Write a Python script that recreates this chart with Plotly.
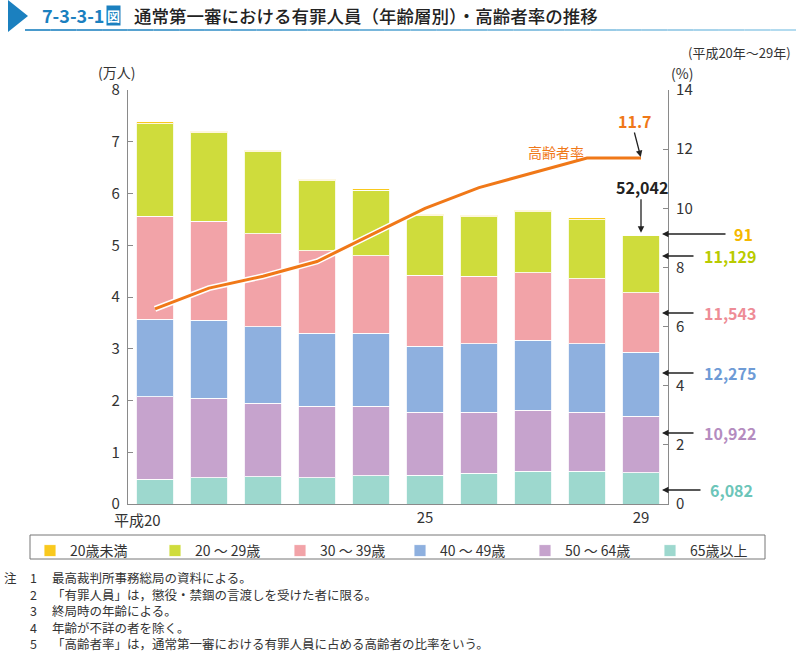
import plotly.graph_objects as go

# ---------------- data ----------------
years = ["平成20", "21", "22", "23", "24", "25", "26", "27", "28", "29"]
tick_labels = ["", "", "", "", "", "25", "", "", "", "29"]

# 有罪人員（人）
under20 = [400, 300, 300, 300, 300, 300, 300, 300, 400, 91]
age20_29 = [17900, 17100, 15900, 13600, 12600, 11500, 11500, 11800, 11400, 11129]
age30_39 = [19900, 19100, 17900, 15900, 15000, 13700, 13000, 13100, 12500, 11543]
age40_49 = [15000, 15100, 14800, 14100, 14100, 12800, 13300, 13500, 13300, 12275]
age50_64 = [15900, 15300, 14200, 13800, 13400, 12100, 11800, 11800, 11400, 10922]
age65 = [4800, 5100, 5300, 5100, 5500, 5600, 5900, 6300, 6300, 6082]

# 高齢者率（%）
elderly_rate = [6.6, 7.3, 7.7, 8.2, 9.1, 10.0, 10.7, 11.2, 11.7, 11.7]

series_names = ["65歳以上", "50 ～ 64歳", "40 ～ 49歳", "30 ～ 39歳", "20 ～ 29歳", "20歳未満"]
series_values = [age65, age50_64, age40_49, age30_39, age20_29, under20]
series_colors = ["#9dd8ce", "#c6a3cd", "#8eb0df", "#f2a3a8", "#cfdc3c", "#f9c91e"]
series_legend = ["legend2", "legend2", "legend2", "legend", "legend", "legend"]
label_colors = ["#6cc5b9", "#b48cc0", "#6e9bd6", "#ee8c96", "#b9cb00", "#f5b800"]

# ---------------- layout helpers ----------------
L, T, W, H = 128, 90, 540, 414
FW, FH = 796, 653


def px(x):
    return (x - L) / W


def py(y):
    return (T + H - y) / H


FONT = "Noto Sans CJK JP"
LAST = len(years) - 1

fig = go.Figure()

for name, vals, col, lg in zip(series_names, series_values, series_colors, series_legend):
    fig.add_trace(go.Bar(
        x=years, y=[v / 10000 for v in vals], name=name, legend=lg,
        marker=dict(color=col, line=dict(color="rgba(255,255,255,0.85)", width=1)),
        hoverinfo="skip",
    ))

# elderly rate line with white halo
fig.add_trace(go.Scatter(x=years, y=elderly_rate, yaxis="y2", mode="lines",
                         line=dict(color="white", width=6), showlegend=False, hoverinfo="skip"))
fig.add_trace(go.Scatter(x=years, y=elderly_rate, yaxis="y2", mode="lines",
                         line=dict(color="#f07818", width=3), showlegend=False, hoverinfo="skip"))

ann = []
# title
ann.append(dict(text="<b>7-3-3-1</b>", x=40, y=15, xanchor="left",
                font=dict(size=18, color="#1b80bf")))
ann.append(dict(text="<b>図</b>", x=113, y=15, xanchor="center",
                font=dict(size=13, color="white"), bgcolor="#1b80bf", borderpad=0))
ann.append(dict(text="通常第一審における有罪人員（年齢層別）・高齢者率の推移", x=132, y=15,
                xanchor="left", font=dict(size=17.5, color="#222222", weight=500)))
ann.append(dict(text="(平成20年～29年)", x=793, y=52, xanchor="right",
                font=dict(size=13, color="#333333")))
ann.append(dict(text="(万人)", x=116, y=72, xanchor="center",
                font=dict(size=14, color="#333333")))
ann.append(dict(text="(%)", x=682, y=73, xanchor="center",
                font=dict(size=14, color="#333333")))
# x label 平成20 (first)
ann.append(dict(text="平成20", x=163, y=519, xanchor="right",
                font=dict(size=15, color="#333333")))
# 高齢者率 label
ann.append(dict(text="高齢者率", x=556, y=152, xanchor="center",
                font=dict(size=14, color="#f07818")))
# 11.7 label
ann.append(dict(text="<b>%.1f</b>" % elderly_rate[-1], x=635, y=121, xanchor="center",
                font=dict(size=16, color="#f07818")))

# notes
notes = [
    ("注", "1", "最高裁判所事務総局の資料による。"),
    ("", "2", "「有罪人員」は，懲役・禁錮の言渡しを受けた者に限る。"),
    ("", "3", "終局時の年齢による。"),
    ("", "4", "年齢が不詳の者を除く。"),
    ("", "5", "「高齢者率」は，通常第一審における有罪人員に占める高齢者の比率をいう。"),
]
for i, (a, b, c) in enumerate(notes):
    yy = 577.5 + i * 16.6
    if a:
        ann.append(dict(text=a, x=2, y=yy, xanchor="left",
                        font=dict(size=12.5, color="#333333")))
    ann.append(dict(text=b, x=28, y=yy, xanchor="left",
                    font=dict(size=12.5, color="#333333")))
    ann.append(dict(text=c, x=50, y=yy, xanchor="left",
                    font=dict(size=12.5, color="#333333")))

# total label
total_last = sum(v[-1] for v in series_values)
ann.append(dict(text="<b>{:,}</b>".format(total_last), x=642, y=187, xanchor="center",
                font=dict(size=16, color="#222222")))

# right-side value labels (top to bottom)
right_labels = [
    (under20[-1], label_colors[5], 234, 732),
    (age20_29[-1], label_colors[4], 256, 702),
    (age30_39[-1], label_colors[3], 313, 702),
    (age40_49[-1], label_colors[2], 373, 702),
    (age50_64[-1], label_colors[1], 433, 702),
    (age65[-1], label_colors[0], 490, 708),
]
for val, col, yy, tx in right_labels:
    ann.append(dict(text="<b>{:,}</b>".format(val), x=tx, y=yy, xanchor="left",
                    font=dict(size=16, color=col)))

# convert pixel-placed annotations to paper coords
for a in ann:
    a["x"] = px(a["x"])
    a["y"] = py(a["y"])
    a["xref"] = "paper"
    a["yref"] = "paper"
    a["yanchor"] = "middle"
    a["showarrow"] = False

# arrows
ARROW = dict(text="", showarrow=True, arrowhead=2, arrowsize=1, arrowwidth=1.3, arrowcolor="#222222")
ann.append(dict(ARROW, x=LAST, y=elderly_rate[-1], xref="x", yref="y2", ax=-7, ay=-27, standoff=1))
ann.append(dict(ARROW, x=LAST, y=total_last / 10000, xref="x", yref="y", ax=0, ay=-37, standoff=2))
arrow_tails = [727, 695, 695, 695, 695, 702]
for (val, col, yy, tx), tail in zip(right_labels, arrow_tails):
    ann.append(dict(ARROW, xref="paper", yref="paper", x=px(662), y=py(yy),
                    ax=tail - 662, ay=0, standoff=0))

shapes = []
# title triangle
shapes.append(dict(type="path", xref="paper", yref="paper",
                   path="M {} {} L {} {} L {} {} Z".format(px(8), py(0), px(8), py(32), px(28), py(16)),
                   fillcolor="#1b80bf", line=dict(width=0)))
# title underline with fading gradient
n = 30
x0, x1 = 25, 796
c0 = (27, 128, 191)
c1 = (160, 210, 235)
for i in range(n):
    t = i / (n - 1)
    col = "rgb({},{},{})".format(*[int(c0[k] + (c1[k] - c0[k]) * t) for k in range(3)])
    xa = x0 + (x1 - x0) * i / n
    xb = x0 + (x1 - x0) * (i + 1) / n
    shapes.append(dict(type="line", xref="paper", yref="paper", x0=px(xa), x1=px(xb),
                       y0=py(30), y1=py(30), line=dict(color=col, width=1.6)))
# legend frame
shapes.append(dict(type="rect", xref="paper", yref="paper", x0=px(30), x1=px(765),
                   y0=py(535), y1=py(559), line=dict(color="#777777", width=1),
                   fillcolor="rgba(0,0,0,0)"))

LEG = dict(orientation="h", traceorder="reversed", yanchor="top", xanchor="left",
           borderwidth=0, bgcolor="rgba(0,0,0,0)",
           font=dict(size=14, color="#333333"), entrywidth=80, entrywidthmode="pixels",
           itemclick=False, itemdoubleclick=False)

fig.update_layout(
    width=FW, height=FH,
    margin=dict(l=L, r=FW - L - W, t=T, b=FH - T - H),
    paper_bgcolor="white", plot_bgcolor="white",
    barmode="stack", bargap=0.30,
    font=dict(family=FONT, color="#333333"),
    xaxis=dict(type="category", tickmode="array", tickvals=years, ticktext=tick_labels,
               showline=True, linecolor="#8a8a8a", linewidth=1.2, ticks="",
               showgrid=False, tickfont=dict(size=15, color="#333333"), range=[-0.5, 9.5],
               fixedrange=True),
    yaxis=dict(range=[0, 8], dtick=1, showline=True, linecolor="#8a8a8a", linewidth=1.2,
               ticks="inside", ticklen=5, tickcolor="#8a8a8a", showgrid=False, zeroline=False,
               tickfont=dict(size=15, color="#333333"), ticklabelstandoff=4),
    yaxis2=dict(range=[0, 14], dtick=2, overlaying="y", side="right", showline=True,
                linecolor="#8a8a8a", linewidth=1.2, ticks="inside", ticklen=5, tickcolor="#8a8a8a",
                showgrid=False, zeroline=False, tickfont=dict(size=15, color="#333333"),
                ticklabelstandoff=4),
    legend=dict(LEG, x=px(30), y=py(535)),
    legend2=dict(LEG, x=px(400), y=py(535)),
    annotations=ann,
    shapes=shapes,
    showlegend=True,
)

fig.write_html("out.html", config={"displayModeBar": False},
               post_script="document.body.style.margin='0';document.body.style.overflow='hidden';")
